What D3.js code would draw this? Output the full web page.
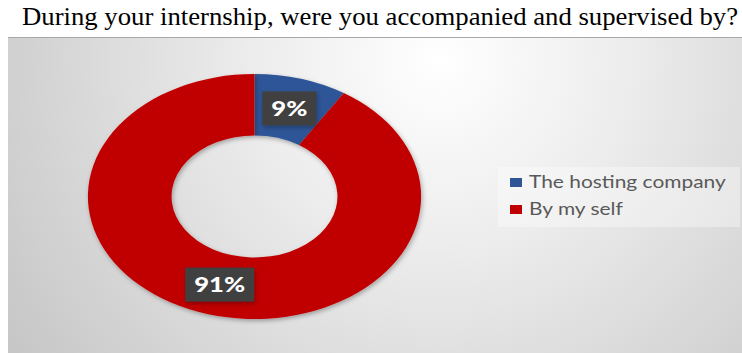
<!DOCTYPE html>
<html>
<head>
<meta charset="utf-8">
<script src="https://cdn.jsdelivr.net/npm/d3@7/dist/d3.min.js"></script>
<style>
  html, body { margin: 0; padding: 0; background: #fff; }
  svg { display: block; }
</style>
</head>
<body>
<svg id="chart" width="742" height="353"></svg>
<script>
// Survey answers
const categories = ["The hosting company", "By my self"];
const shares = [9, 91];
const labels = ["9%", "91%"];
const colors = ["#2F5597", "#C00000"];
const title = "During your internship, were you accompanied and supervised by?";

const svg = d3.select("#chart");
const W = 742, H = 353;

const defs = svg.append("defs");
const bg = defs.append("radialGradient")
  .attr("id", "bgGrad")
  .attr("gradientUnits", "userSpaceOnUse")
  .attr("cx", 440).attr("cy", 60).attr("r", 520)
  .attr("fx", 440).attr("fy", 60);
bg.append("stop").attr("offset", "0%").attr("stop-color", "#ffffff");
bg.append("stop").attr("offset", "35%").attr("stop-color", "#ededed");
bg.append("stop").attr("offset", "100%").attr("stop-color", "#c6c6c6");

const shadow = defs.append("filter").attr("id", "soft")
  .attr("x", "-20%").attr("y", "-20%").attr("width", "140%").attr("height", "140%");
shadow.append("feDropShadow").attr("dx", 1).attr("dy", 2).attr("stdDeviation", 2)
  .attr("flood-color", "#000").attr("flood-opacity", 0.3);

// Title
svg.append("text")
  .attr("x", 22).attr("y", 25)
  .attr("textLength", 716).attr("lengthAdjust", "spacingAndGlyphs")
  .style("font-family", "'Liberation Serif', 'Times New Roman', serif")
  .style("font-size", "25px")
  .style("fill", "#000")
  .text(title);

// Plot panel
svg.append("rect")
  .attr("x", 8).attr("y", 37).attr("width", W - 8).attr("height", H - 37)
  .attr("fill", "url(#bgGrad)");
svg.append("line")
  .attr("x1", 8).attr("x2", W).attr("y1", 37.5).attr("y2", 37.5)
  .attr("stroke", "#a8a8a8").attr("stroke-width", 1);

// Donut (drawn as circle, stretched horizontally)
const cx = 254.5, cy = 196.5;
const rOuter = 122.5, rInner = 61;
const sx = 1.36;

const pie = d3.pie().sort(null).value(d => d)(shares);
const arc = d3.arc().innerRadius(rInner).outerRadius(rOuter);
const midArc = d3.arc().innerRadius((rInner + rOuter) / 2).outerRadius((rInner + rOuter) / 2);

const g = svg.append("g").attr("transform", `translate(${cx},${cy}) scale(${sx},1)`);
g.selectAll("path.slice")
  .data(pie)
  .join("path")
  .attr("class", "slice")
  .attr("d", arc)
  .attr("fill", (d, i) => colors[i])
  .attr("filter", "url(#soft)");

// Value labels
const lab = svg.append("g");
pie.forEach((d, i) => {
  const [mx, my] = midArc.centroid(d);
  const x = cx + mx * sx, y = cy + my;
  const t = lab.append("text")
    .attr("x", x).attr("y", y + 7.5)
    .attr("text-anchor", "middle")
    .style("font-family", "Lato, 'Open Sans', sans-serif")
    .style("font-weight", "900")
    .style("font-size", "21px")
    .style("fill", "#ffffff")
    .text(labels[i]);
  const tw = t.node().getComputedTextLength() * 1.22;
  t.attr("textLength", tw).attr("lengthAdjust", "spacingAndGlyphs");
  lab.insert("rect", "text")
    .attr("x", x - tw / 2 - 9).attr("y", y - 17)
    .attr("width", tw + 18).attr("height", 34)
    .attr("fill", "#404040")
    .attr("filter", "url(#soft)");
});

// Legend
const leg = svg.append("g");
leg.append("rect")
  .attr("x", 498).attr("y", 167).attr("width", 242).attr("height", 60)
  .attr("fill", "#ffffff").attr("fill-opacity", 0.35);
const legendRows = [188, 215];
categories.forEach((c, i) => {
  leg.append("rect")
    .attr("x", 510).attr("y", legendRows[i] - 10)
    .attr("width", 12).attr("height", 9)
    .attr("fill", colors[i]);
  const t = leg.append("text")
    .attr("x", 529).attr("y", legendRows[i])
    .style("font-family", "Lato, 'Open Sans', sans-serif")
    .style("font-size", "17px")
    .style("fill", "#595959")
    .text(c);
  const w = t.node().getComputedTextLength() * 1.23;
  t.attr("textLength", w).attr("lengthAdjust", "spacingAndGlyphs");
});
</script>
</body>
</html>
